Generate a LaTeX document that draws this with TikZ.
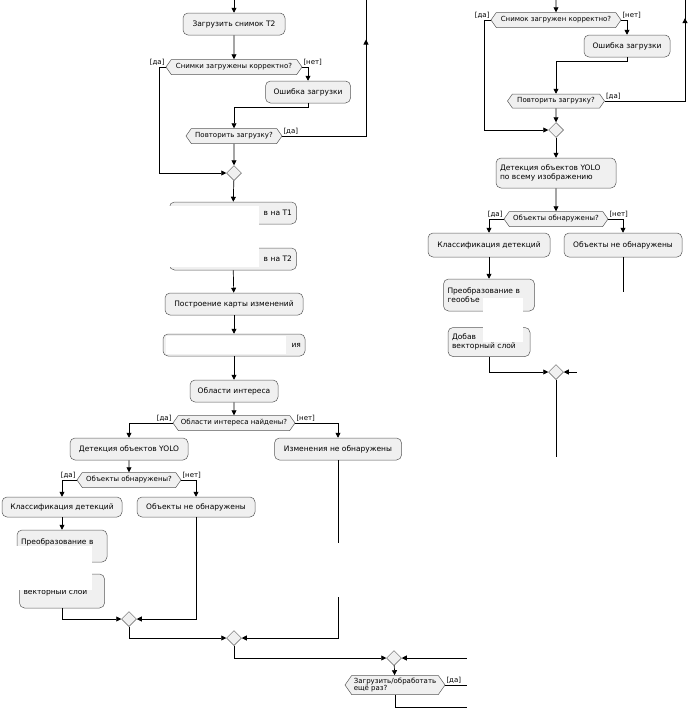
\documentclass[tikz,border=0pt]{standalone}
\usepackage{fontspec}
\setmainfont{DejaVu Sans}
\usetikzlibrary{positioning, shapes.geometric, shapes.symbols, arrows.meta,
decorations.markings}

\begin{document}
\begin{tikzpicture}[
      x=1pt, y=-1pt,
      block/.style={rectangle, draw=gray!70!black, fill=gray!12,
      rounded corners=5pt, align=center, inner sep=1pt, minimum height=22pt,
      font=\fontsize{7.5}{9}\selectfont, line width=0.5pt},
      cond/.style={signal, signal to=west and east, signal pointer angle=110,
      draw=gray!70!black, fill=gray!12, inner sep=1pt, minimum height=15pt,
      font=\fontsize{7}{8.5}\selectfont, line width=0.5pt},
      merge/.style={diamond, draw=gray!70!black, fill=gray!12,
      minimum size=15pt, inner sep=0pt, line width=0.5pt},
      guard/.style={font=\fontsize{7}{8}\selectfont, inner sep=1pt},
      line/.style={draw, -{Triangle[length=5pt,width=5pt]}, line width=0.7pt},
      plain/.style={draw, line width=0.7pt},
      midarrow/.style={postaction={decorate}, decoration={markings,
      mark=at position #1 with {\arrow{Triangle[length=5pt,width=5pt]}}}},
      cover/.style={fill=white, draw=none}
    ]
    \useasboundingbox (0,0) rectangle (690,710);

    % left column
    \coordinate (in1) at (234,0);
    \coordinate (top1) at (366,0);
    \node [block, minimum width=102pt] (load2) at (234,24) {Загрузить снимок Т2};
    \node [cond, minimum width=136pt] (q1) at (234,67) {Снимки загружены корректно?};
    \node [block, minimum width=85pt] (err1) at (308,92) {Ошибка загрузки};
    \node [cond, minimum width=96pt] (rep1) at (234,136) {Повторить загрузку?};
    \node [merge] (m1) at (234,173) {};
    \node [block, minimum width=127pt, text width=118pt, align=right] (det1)
      at (233,213) {в на Т1};
    \node [block, minimum width=127pt, text width=118pt, align=right] (det2)
      at (233,259) {в на Т2};
    \node [block, minimum width=138pt] (chmap) at (234,304) {Построение карты изменений};
    \node [block, minimum width=142pt, text width=134pt, align=right] (step4)
      at (234,345) {ия};
    \node [block, minimum width=88pt] (roi) at (234,391) {Области интереса};
    \node [cond, minimum width=122pt] (qroi) at (234,423) {Области интереса найдены?};
    \node [block, minimum width=118pt] (yolo1) at (129,449) {Детекция объектов YOLO};
    \node [block, minimum width=127pt] (nochg) at (338,449) {Изменения не обнаружены};
    \node [cond, minimum width=104pt] (qobj1) at (129,480) {Объекты обнаружены?};
    \node [block, minimum width=120pt, minimum height=20pt] (cls1) at (62,507)
      {Классификация детекций};
    \node [block, minimum width=118pt, minimum height=20pt] (nobj1) at (196,507)
      {Объекты не обнаружены};
    \node [block, minimum width=90pt, minimum height=32pt, text width=82pt,
      align=left] (geo1) at (62,546) {Преобразование в\\\mbox{}};
    \node [block, minimum width=85pt, minimum height=34pt, text width=77pt,
      align=left] (add1) at (62,591) {\mbox{}\\векторный слой};
    \node [merge] (m2) at (129,619) {};
    \node [merge] (m3) at (234,638) {};
    \node [merge] (m5) at (394,658) {};
    \node [cond, minimum width=100pt, minimum height=19pt, align=left,
      font=\fontsize{7}{7.5}\selectfont] (again) at (395,685)
      {Загрузить/обработать\\ещё раз?};
    \coordinate (back) at (467,658);
    \coordinate (yesend) at (467,685);
    \coordinate (noend) at (467,707);

    % right column
    \coordinate (in2) at (556,0);
    \coordinate (top2) at (685,0);
    \node [cond, minimum width=130pt] (q2) at (556,20) {Снимок загружен корректно?};
    \node [block, minimum width=86pt] (err2) at (627,46) {Ошибка загрузки};
    \node [cond, minimum width=97pt, minimum height=14pt] (rep2) at (556,101)
      {Повторить загрузку?};
    \node [merge] (mr) at (556,130) {};
    \node [block, minimum width=120pt, minimum height=30pt, text width=112pt,
      align=left] (yolo2) at (556,173) {Детекция объектов YOLO\\по всему изображению};
    \node [cond, minimum width=104pt] (qobj2) at (556,219) {Объекты обнаружены?};
    \node [block, minimum width=122pt, minimum height=24pt] (cls2) at (489,245)
      {Классификация детекций};
    \node [block, minimum width=118pt, minimum height=24pt] (nobj2) at (623,245)
      {Объекты не обнаружены};
    \node [block, minimum width=91pt, minimum height=32pt, text width=83pt,
      align=left] (geo2) at (489,295) {Преобразование в\\геообъе};
    \node [block, minimum width=82pt, minimum height=29pt, text width=74pt,
      align=left] (add2) at (489,342) {Добав\\векторный слой};
    \node [merge] (m4) at (556,372) {};
    \coordinate (end2) at (556,457);

    % left flows
    \path [line] (in1) -- (load2);
    \path [line] (load2) -- (q1);
    \path [line] (q1.west) -- ++(-6,0) |- (m1.west);
    \path [line] (q1.east) -| (err1.north);
    \path [line] (err1.south) -- ++(0,4) -| (rep1.north);
    \path [plain, midarrow=0.82] (rep1.east) -| (top1);
    \path [line] (rep1) -- (m1);
    \path [line] (m1) -- (det1);
    \path [line] (det1) -- (det2);
    \path [line] (det2) -- (chmap);
    \path [line] (chmap) -- (step4);
    \path [line] (step4) -- (roi);
    \path [line] (roi) -- (qroi);
    \path [line] (qroi.west) -| (yolo1.north);
    \path [line] (qroi.east) -| (nochg.north);
    \path [line] (yolo1) -- (qobj1);
    \path [line] (qobj1.west) -| (cls1.north);
    \path [line] (qobj1.east) -| (nobj1.north);
    \path [line] (cls1) -- (geo1);
    \path [line] (geo1) -- (add1);
    \path [line] (add1.south) |- (m2.west);
    \path [line] (nobj1.south) |- (m2.east);
    \path [line] (m2.south) |- (m3.west);
    \path [line] (nochg.south) |- (m3.east);
    \path [line] (m3.south) |- (m5.west);
    \path [line] (back) -- (m5.east);
    \path [line] (m5) -- (again);
    \path [plain] (again.east) -- (yesend);
    \path [plain] (again.south) |- (noend);

    % right flows
    \path [line] (in2) -- (q2);
    \path [line] (q2.west) -- ++(-6,0) |- (mr.west);
    \path [line] (q2.east) -| (err2.north);
    \path [line] (err2.south) -- ++(0,4) -| (rep2.north);
    \path [plain, midarrow=0.9] (rep2.east) -| (top2);
    \path [line] (rep2) -- (mr);
    \path [line] (mr) -- (yolo2);
    \path [line] (yolo2) -- (qobj2);
    \path [line] (qobj2.west) -| (cls2.north);
    \path [line] (qobj2.east) -| (nobj2.north);
    \path [line] (cls2) -- (geo2);
    \path [line] (geo2) -- (add2);
    \path [line] (add2.south) |- (m4.west);
    \path [line] (nobj2.south) |- (m4.east);
    \path [plain] (m4.south) -- (end2);

    % guards
    \node [guard, anchor=south east] at (q1.west) {[да]};
    \node [guard, anchor=south west] at (q1.east) {[нет]};
    \node [guard, anchor=south west] at (rep1.east) {[да]};
    \node [guard, anchor=south east] at (qroi.west) {[да]};
    \node [guard, anchor=south west] at (qroi.east) {[нет]};
    \node [guard, anchor=south east] at (qobj1.west) {[да]};
    \node [guard, anchor=south west] at (qobj1.east) {[нет]};
    \node [guard, anchor=south west] at (again.east) {[да]};
    \node [guard, anchor=south east] at (q2.west) {[да]};
    \node [guard, anchor=south west] at (q2.east) {[нет]};
    \node [guard, anchor=south west] at (rep2.east) {[да]};
    \node [guard, anchor=south east] at (qobj2.west) {[да]};
    \node [guard, anchor=south west] at (qobj2.east) {[нет]};

    % blanked parts
    \fill [cover] (166,206) rectangle (259,267);
    \fill [cover] (166,336) rectangle (286,354);
    \fill [cover] (14,546) rectangle (92,590);
    \fill [cover] (320,543) rectangle (356,597);
    \fill [cover] (483,298) rectangle (523,342);
    \fill [cover] (577,292) rectangle (690,470);
    \fill [cover] (467,457) rectangle (690,710);
  \end{tikzpicture}
\end{document}
